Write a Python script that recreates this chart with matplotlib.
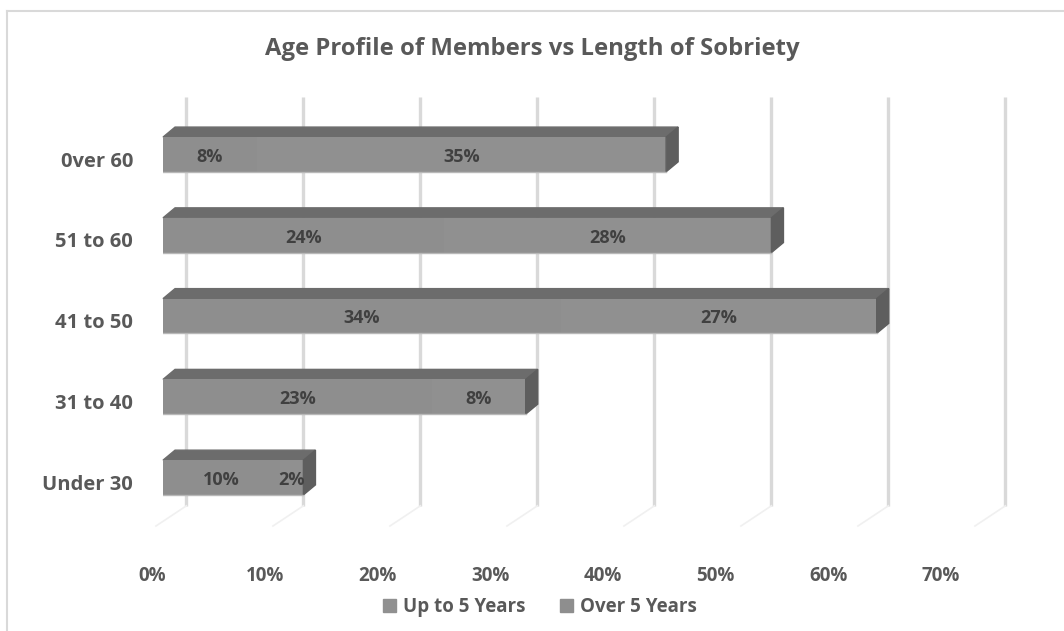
import matplotlib
matplotlib.use("Agg")
import matplotlib.pyplot as plt
from matplotlib.patches import Polygon, Patch

plt.rcParams['font.family'] = ['Open Sans', 'DejaVu Sans']

categories = ['Under 30', '31 to 40', '41 to 50', '51 to 60', '0ver 60']
up_to_5 = [10, 23, 34, 24, 8]
over_5 = [2, 8, 27, 28, 35]
series_names = ['Up to 5 Years', 'Over 5 Years']
ticks = [0, 10, 20, 30, 40, 50, 60, 70]

text_col = '#595959'
face_col = '#8e8e8e'
top_col = '#6c6c6c'
side_col = '#5e5e5e'
grid_col = '#d9d9d9'

W, H = 1064, 631
fig = plt.figure(figsize=(W / 100, H / 100), dpi=100)

# chart border (only top and left visible in the reference)
fig.add_artist(plt.Line2D([7 / W, 7 / W], [0, 1 - 11 / H], color='#d9d9d9', lw=1.5))
fig.add_artist(plt.Line2D([7 / W, 1], [1 - 11 / H, 1 - 11 / H], color='#d9d9d9', lw=1.5))

# main axes: front plane of the bars
ax_bottom, ax_top = 526, 106
ax = fig.add_axes([163 / W, 1 - ax_bottom / H, 819 / W, (ax_bottom - ax_top) / H])
ax.set_xlim(0, 70)
ax.set_ylim(-0.6, 4.6)
ax.axis('off')

bar_h = 0.43
dx, dy = 1.03, 0.124          # bar depth
back_dx, back_dy = 2.0, 0.25  # back wall offset

# back wall gridlines + faint floor strokes
for v in ticks:
    ax.plot([v + back_dx, v + back_dx], [-0.6 + back_dy, 4.71], color=grid_col,
            lw=2.4, zorder=1, clip_on=False, solid_capstyle='butt')
    ax.plot([v + back_dx, v + back_dx - 2.6], [-0.6 + back_dy, -0.6 - 0.0],
            color='#f0f0f0', lw=1.2, zorder=1, clip_on=False)

ys = list(range(len(categories)))
totals = [a + b for a, b in zip(up_to_5, over_5)]

ax.barh(ys, up_to_5, height=bar_h, color=face_col, zorder=3)
ax.barh(ys, over_5, left=up_to_5, height=bar_h, color='#909090', zorder=3)

for y, a, t in zip(ys, up_to_5, totals):
    top = y + bar_h / 2
    bot = y - bar_h / 2
    ax.add_patch(Polygon([(0, top), (dx, top + dy), (t + dx, top + dy), (t, top)],
                         closed=True, color=top_col, zorder=2, clip_on=False))
    ax.add_patch(Polygon([(t, bot), (t, top), (t + dx, top + dy), (t + dx, bot + dy)],
                         closed=True, color=side_col, zorder=4, clip_on=False))
    ax.plot([0, t], [bot, bot], color='#b8b8b8', lw=1, zorder=4)

# data labels
for y, a, b in zip(ys, up_to_5, over_5):
    ax.text(a / 2, y - 0.03, f'{a}%', ha='center', va='center', fontsize=13,
            fontweight='bold', color='#404040', zorder=5)
    ax.text(a + b / 2, y - 0.03, f'{b}%', ha='center', va='center', fontsize=13,
            fontweight='bold', color='#404040', zorder=5)

# category labels
for y, c in zip(ys, categories):
    ax.text(-30 / 11.7, y - 0.09, c, ha='right', va='center', fontsize=14.5,
            fontweight='bold', color=text_col)

# value axis labels (front floor edge)
lab = fig.add_axes([152 / W, 1 - ax_bottom / H, 789 / W, 0.001])
lab.set_xlim(0, 70)
lab.set_xticks(ticks)
lab.set_xticklabels([f'{v}%' for v in ticks], fontsize=13.5, fontweight='bold', color=text_col)
lab.tick_params(axis='x', length=0, pad=29)
lab.set_yticks([])
for s in lab.spines.values():
    s.set_visible(False)
lab.patch.set_visible(False)

fig.text(532 / W, 1 - 49 / H, 'Age Profile of Members vs Length of Sobriety',
         ha='center', va='center', fontsize=17.2, fontweight='bold', color=text_col)

handles = [Patch(color='#909090'), Patch(color='#8e8e8e')]
fig.legend(handles, series_names, loc='center', bbox_to_anchor=(540 / W, 1 - 607 / H),
           ncol=2, frameon=False, prop={'size': 13.5, 'weight': 'bold'},
           handlelength=0.7, handleheight=0.7, handletextpad=0.4, columnspacing=1.8,
           labelcolor=text_col)

fig.savefig('out.png', dpi=100, facecolor='white')
